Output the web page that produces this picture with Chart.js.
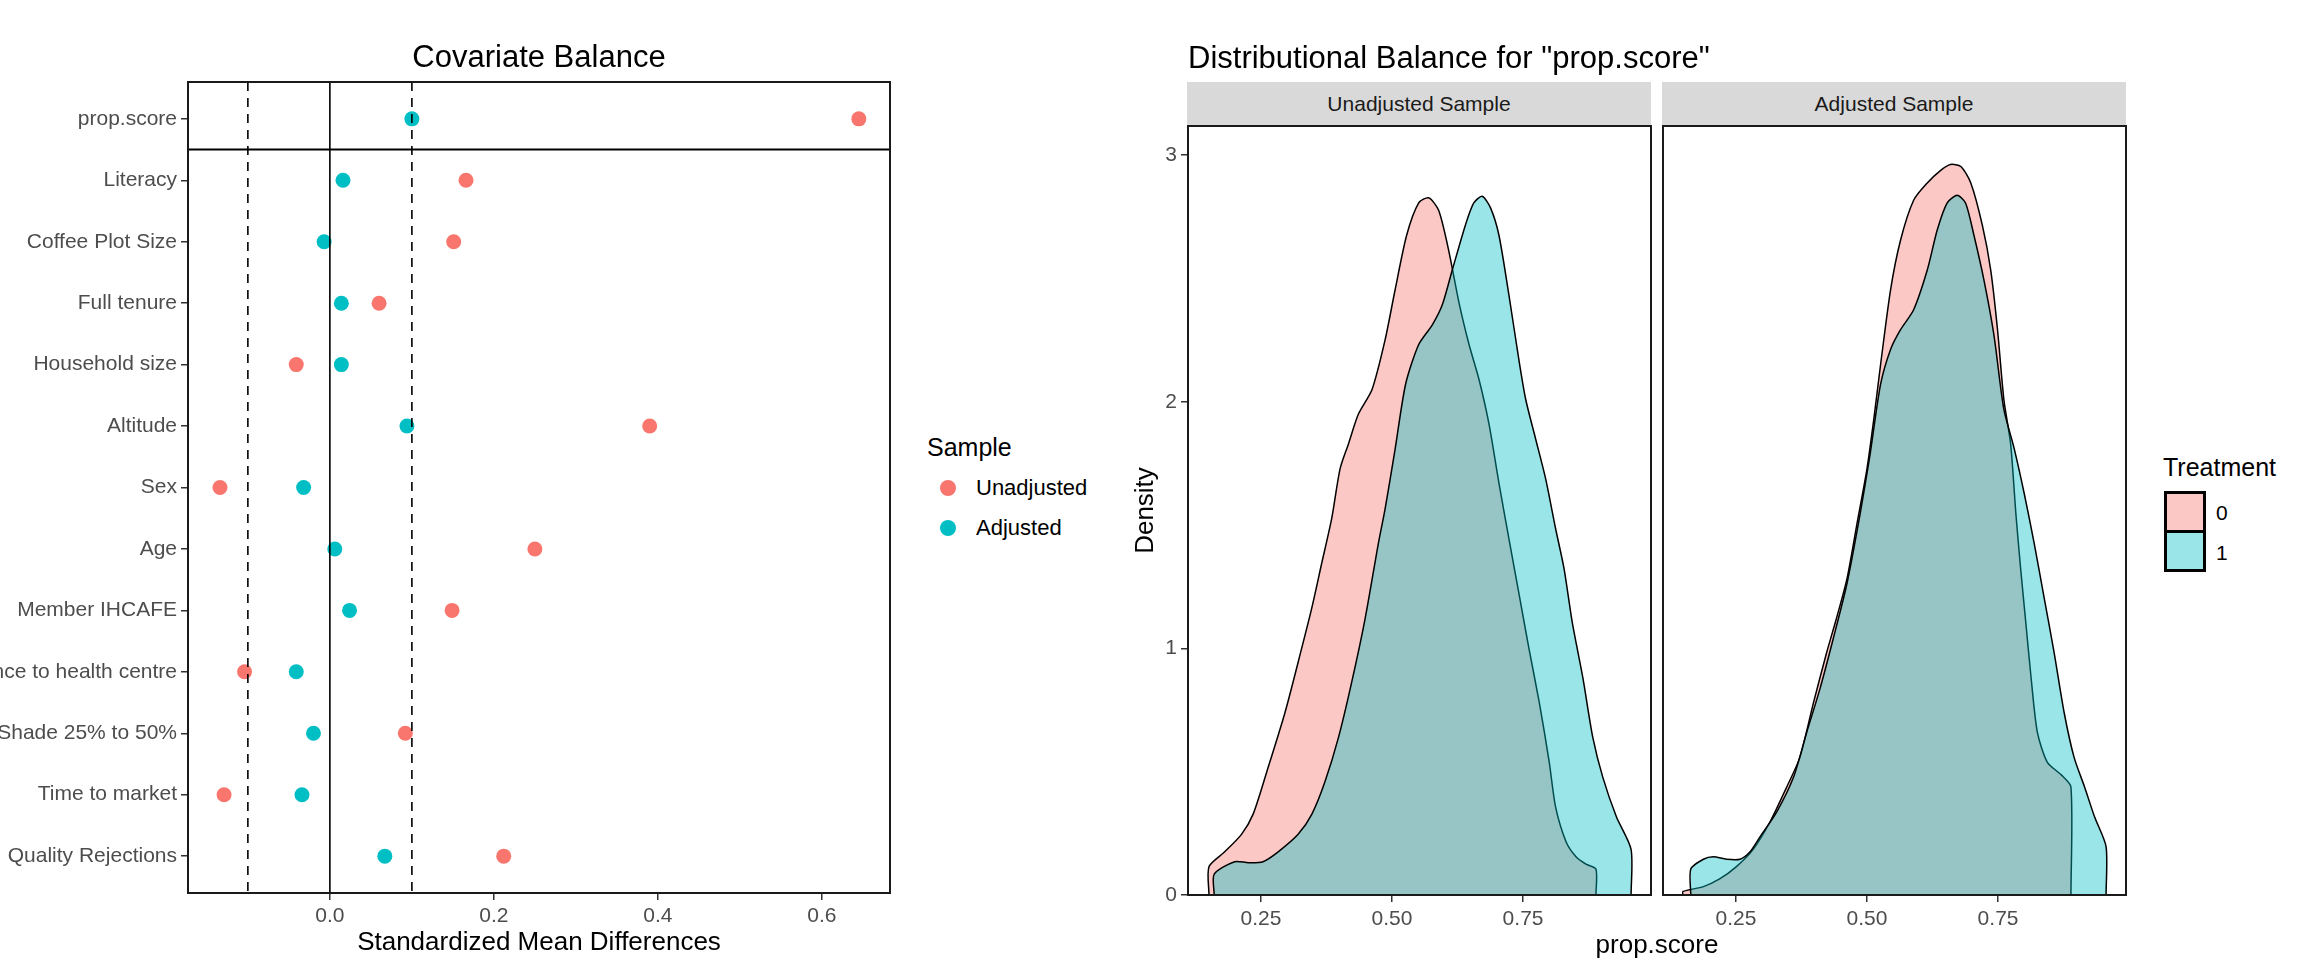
<!DOCTYPE html>
<html>
<head>
<meta charset="utf-8">
<script src="https://cdn.jsdelivr.net/npm/chart.js@4.4.1/dist/chart.umd.min.js"></script>
<style>
  body { margin: 0; background: #fff; width: 2324px; height: 961px; overflow: hidden; position: relative;
         font-family: 'Liberation Sans', Arial, sans-serif; }
  canvas { position: absolute; top: 0; }
  .t { position: absolute; white-space: nowrap; line-height: 1; }
  .strip { position: absolute; background: #d9d9d9; color: #1a1a1a; font-size: 21px;
           display: flex; align-items: center; justify-content: center; }
  .dot { position: absolute; width: 16px; height: 16px; border-radius: 50%; }
  .key { position: absolute; width: 36px; height: 36px; border: 3px solid #000; }
</style>
</head>
<body>
<canvas id="balance" width="900" height="961" style="left:0"></canvas>
<canvas id="densUnadj" width="560" height="961" style="left:1100px"></canvas>
<canvas id="densAdj" width="480" height="961" style="left:1655px"></canvas>

<div class="t" style="left:539px;top:56px;font-size:31px;transform:translate(-50%,-50%)">Covariate Balance</div>
<div class="t" style="left:927px;top:447px;font-size:25px;transform:translateY(-50%)">Sample</div>
<div class="dot" style="left:940px;top:480px;background:#F8766D"></div>
<div class="t" style="left:976px;top:488px;font-size:22px;transform:translateY(-50%)">Unadjusted</div>
<div class="dot" style="left:940px;top:520px;background:#00BFC4"></div>
<div class="t" style="left:976px;top:528px;font-size:22px;transform:translateY(-50%)">Adjusted</div>

<div class="t" style="left:1188px;top:57px;font-size:31px;transform:translateY(-50%)">Distributional Balance for "prop.score"</div>
<div class="strip" style="left:1187px;top:82px;width:464px;height:43px">Unadjusted Sample</div>
<div class="strip" style="left:1662px;top:82px;width:464px;height:43px">Adjusted Sample</div>
<div class="t" style="left:1657px;top:944px;font-size:26px;transform:translate(-50%,-50%)">prop.score</div>

<div class="t" style="left:2163px;top:467px;font-size:25px;transform:translateY(-50%)">Treatment</div>
<div class="key" style="left:2164px;top:491px;background:rgba(248,118,109,0.4)"></div>
<div class="key" style="left:2164px;top:530px;background:rgba(0,191,196,0.4)"></div>
<div class="t" style="left:2216px;top:512px;font-size:21px;transform:translateY(-50%)">0</div>
<div class="t" style="left:2216px;top:552px;font-size:21px;transform:translateY(-50%)">1</div>

<script>
// covariate balance (standardized mean differences)
const covariates = ['prop.score', 'Literacy', 'Coffee Plot Size', 'Full tenure', 'Household size', 'Altitude',
  'Sex', 'Age', 'Member IHCAFE', 'Distance to health centre', 'Shade 25% to 50%', 'Time to market', 'Quality Rejections'];
const unadjusted = [0.645, 0.166, 0.151, 0.060, -0.041, 0.390, -0.134, 0.250, 0.149, -0.104, 0.092, -0.129, 0.212];
const adjusted = [0.100, 0.016, -0.007, 0.014, 0.014, 0.094, -0.032, 0.006, 0.024, -0.041, -0.020, -0.034, 0.067];
const thresholds = [-0.1, 0.1];
const smdTicks = [0.0, 0.2, 0.4, 0.6];

// density of prop.score, [x, density]
const unadjT0 = [[0.151,0],[0.151,0.115],[0.181,0.175],[0.213,0.246],[0.235,0.327],[0.261,0.498],[0.296,0.740],
  [0.328,1.002],[0.347,1.163],[0.366,1.345],[0.385,1.526],[0.401,1.728],[0.417,1.829],[0.436,1.950],[0.462,2.050],
  [0.487,2.252],[0.506,2.454],[0.528,2.675],[0.551,2.806],[0.570,2.827],[0.589,2.776],[0.608,2.615],[0.628,2.400],
  [0.647,2.232],[0.666,2.090],[0.685,1.910],[0.704,1.670],[0.723,1.445],[0.742,1.224],[0.761,1.002],[0.781,0.780],
  [0.800,0.538],[0.812,0.357],[0.832,0.216],[0.851,0.155],[0.870,0.125],[0.889,0.105],[0.889,0]];
const unadjT1 = [[0.161,0],[0.161,0.085],[0.200,0.135],[0.226,0.131],[0.254,0.135],[0.283,0.175],[0.321,0.246],
  [0.347,0.327],[0.372,0.458],[0.398,0.639],[0.423,0.861],[0.449,1.123],[0.474,1.425],[0.487,1.567],[0.506,1.808],
  [0.526,2.071],[0.551,2.232],[0.577,2.312],[0.596,2.393],[0.615,2.534],[0.640,2.716],[0.656,2.806],[0.672,2.833],
  [0.688,2.786],[0.704,2.675],[0.723,2.433],[0.742,2.171],[0.755,2.010],[0.774,1.849],[0.793,1.688],[0.812,1.486],
  [0.828,1.325],[0.844,1.103],[0.864,0.881],[0.883,0.639],[0.902,0.478],[0.928,0.317],[0.956,0.185],[0.956,0]];
const adjT0 = [[0.149,0],[0.149,0.014],[0.188,0.034],[0.219,0.065],[0.251,0.115],[0.283,0.185],[0.315,0.296],
  [0.347,0.438],[0.372,0.558],[0.398,0.780],[0.423,0.982],[0.442,1.123],[0.462,1.284],[0.481,1.506],[0.500,1.728],
  [0.513,1.929],[0.526,2.151],[0.545,2.454],[0.564,2.655],[0.589,2.817],[0.615,2.887],[0.640,2.937],[0.659,2.962],
  [0.679,2.954],[0.698,2.887],[0.720,2.716],[0.736,2.534],[0.749,2.292],[0.761,2.010],[0.774,1.829],[0.784,1.546],
  [0.793,1.325],[0.803,1.103],[0.813,0.881],[0.825,0.659],[0.844,0.538],[0.870,0.488],[0.889,0.438],[0.889,0]];
const adjT1 = [[0.164,0],[0.164,0.105],[0.188,0.145],[0.207,0.155],[0.232,0.145],[0.258,0.145],[0.277,0.175],
  [0.296,0.236],[0.328,0.337],[0.360,0.478],[0.385,0.659],[0.411,0.841],[0.436,1.042],[0.462,1.264],[0.487,1.546],
  [0.506,1.788],[0.526,2.071],[0.545,2.212],[0.564,2.292],[0.589,2.373],[0.615,2.534],[0.634,2.696],[0.653,2.806],
  [0.672,2.837],[0.688,2.806],[0.704,2.675],[0.723,2.494],[0.742,2.272],[0.761,1.970],[0.781,1.808],[0.800,1.627],
  [0.819,1.425],[0.838,1.204],[0.857,0.982],[0.876,0.740],[0.895,0.558],[0.915,0.438],[0.934,0.317],[0.956,0.196],[0.956,0]];
const psTicks = [0.25, 0.50, 0.75];
const densTicks = [0, 1, 2, 3];

Chart.defaults.font.family = "'Liberation Sans', Arial, sans-serif";
Chart.defaults.animation = false;

const RED = '#F8766D', CYAN = '#00BFC4';

const panelBorder = {
  id: 'panelBorder',
  afterDatasetsDraw(chart) {
    const a = chart.chartArea, ctx = chart.ctx;
    ctx.save();
    ctx.strokeStyle = '#1a1a1a';
    ctx.lineWidth = 2;
    ctx.strokeRect(a.left, a.top, a.right - a.left, a.bottom - a.top);
    ctx.restore();
  }
};

const tickGrid = { drawOnChartArea: false, tickLength: 7, color: '#333', lineWidth: 1.5 };
const tickFont = { size: 21 };

// ---- left: covariate balance ----
const xMin = -0.173, xMax = 0.683, yMin = -0.6, yMax = 12.6;
const refLine = (pts, dash, w) => ({
  type: 'line', data: pts, borderColor: '#000', borderWidth: w, borderDash: dash,
  pointRadius: 0, fill: false
});

new Chart(document.getElementById('balance'), {
  type: 'scatter',
  data: {
    datasets: [
      refLine([{ x: thresholds[0], y: yMin }, { x: thresholds[0], y: yMax }], [9, 7], 1.6),
      refLine([{ x: thresholds[1], y: yMin }, { x: thresholds[1], y: yMax }], [9, 7], 1.6),
      refLine([{ x: 0, y: yMin }, { x: 0, y: yMax }], [], 1.6),
      refLine([{ x: xMin, y: 0.5 }, { x: xMax, y: 0.5 }], [], 2),
      { label: 'Unadjusted', data: unadjusted.map((v, i) => ({ x: v, y: i })),
        backgroundColor: RED, borderWidth: 0, pointRadius: 7.5 },
      { label: 'Adjusted', data: adjusted.map((v, i) => ({ x: v, y: i })),
        backgroundColor: CYAN, borderWidth: 0, pointRadius: 7.5 }
    ]
  },
  options: {
    responsive: false,
    devicePixelRatio: 1,
    layout: { padding: { top: 82, right: 10, left: 0, bottom: 0 } },
    plugins: { legend: { display: false }, tooltip: { enabled: false } },
    scales: {
      x: {
        type: 'linear', min: xMin, max: xMax,
        afterBuildTicks: s => { s.ticks = smdTicks.map(v => ({ value: v })); },
        afterFit: s => { s.height = 68; },
        ticks: { callback: v => v.toFixed(1), font: tickFont, color: '#4d4d4d', padding: 4, maxRotation: 0 },
        grid: tickGrid, border: { display: false },
        title: { display: true, text: 'Standardized Mean Differences', font: { size: 26 }, color: '#000', padding: { top: 0, bottom: 3 } }
      },
      y: {
        type: 'linear', min: yMin, max: yMax, reverse: true,
        afterBuildTicks: s => { s.ticks = covariates.map((c, i) => ({ value: i })); },
        afterFit: s => { s.width = 188; },
        ticks: { callback: v => covariates[v], font: tickFont, color: '#4d4d4d', padding: 4, autoSkip: false },
        grid: tickGrid, border: { display: false }
      }
    }
  },
  plugins: [panelBorder]
});

// ---- right: density facets ----
const psMin = 0.111, psMax = 0.994, dMax = 3.118;
const densSet = (pts, color, order) => ({
  data: pts.map(p => ({ x: p[0], y: p[1] })),
  borderColor: '#000', borderWidth: 1.5, backgroundColor: color,
  fill: 'origin', pointRadius: 0, tension: 0.25, order: order
});

function densityChart(id, t0, t1, showY, padLeft, padRight) {
  return new Chart(document.getElementById(id), {
    type: 'line',
    data: {
      datasets: [
        densSet(t0, 'rgba(248,118,109,0.4)', 2),
        densSet(t1, 'rgba(0,191,196,0.4)', 1)
      ]
    },
    options: {
      responsive: false,
      devicePixelRatio: 1,
      layout: { padding: { top: 126, right: padRight, left: padLeft, bottom: 0 } },
      plugins: { legend: { display: false }, tooltip: { enabled: false } },
      scales: {
        x: {
          type: 'linear', min: psMin, max: psMax,
          afterBuildTicks: s => { s.ticks = psTicks.map(v => ({ value: v })); },
          afterFit: s => { s.height = 66; },
          ticks: { callback: v => v.toFixed(2), font: tickFont, color: '#4d4d4d', padding: 5, maxRotation: 0 },
          grid: tickGrid, border: { display: false }
        },
        y: {
          display: showY,
          type: 'linear', min: 0, max: dMax,
          afterBuildTicks: s => { s.ticks = densTicks.map(v => ({ value: v })); },
          afterFit: s => { if (showY) s.width = 88; },
          ticks: { font: tickFont, color: '#4d4d4d', padding: 4 },
          grid: tickGrid, border: { display: false },
          title: { display: true, text: 'Density', font: { size: 26 }, color: '#000', padding: { top: 30, bottom: 0 } }
        }
      }
    },
    plugins: [panelBorder]
  });
}

densityChart('densUnadj', unadjT0, unadjT1, true, 0, 9);
densityChart('densAdj', adjT0, adjT1, false, 8, 9);
</script>
</body>
</html>
